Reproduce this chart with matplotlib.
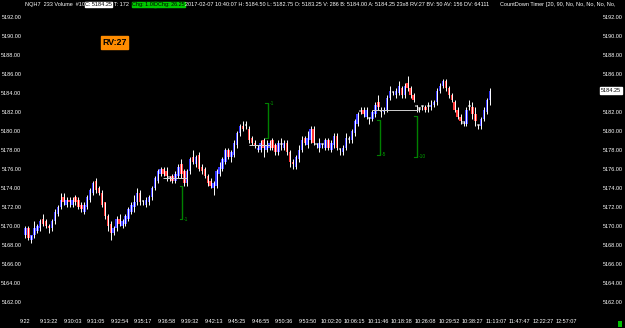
import matplotlib
matplotlib.use("Agg")
import matplotlib.pyplot as plt
import numpy as np

plt.rcParams['font.family'] = ['Liberation Sans', 'DejaVu Sans']

# volume bars (233 volume)
opens = [
    5169.0, 5169.75, 5168.5, 5169.0, 5169.5, 5169.75, 5170.75, 5170.5, 5170.0, 5169.75,
    5170.5, 5171.25, 5172.0, 5173.0, 5172.25, 5172.75, 5172.25, 5173.0, 5172.75, 5172.25,
    5171.5, 5172.0, 5172.75, 5173.5, 5174.75, 5174.0, 5173.5, 5172.5, 5171.0, 5170.25,
    5169.25, 5169.75, 5170.75, 5170.0, 5170.25, 5170.75, 5171.5, 5172.0, 5172.5, 5173.5,
    5172.5, 5172.25, 5172.5, 5173.0, 5174.0, 5174.75, 5175.5, 5176.0, 5175.75, 5175.0,
    5175.25, 5174.75, 5175.25, 5176.5, 5175.75, 5174.5, 5175.75, 5177.25, 5176.5, 5177.5,
    5176.25, 5176.0, 5175.25, 5174.75, 5174.0, 5174.25, 5175.5, 5176.0, 5176.75, 5178.0,
    5177.25, 5177.5, 5178.5, 5179.75, 5180.5, 5180.5, 5180.25, 5179.25, 5178.75, 5178.0,
    5178.0, 5179.0, 5178.0, 5178.25, 5179.0, 5178.5, 5177.75, 5178.5, 5178.25, 5178.75,
    5177.75, 5176.75, 5176.25, 5177.0, 5178.0, 5179.25, 5178.5, 5179.0, 5180.25, 5178.5,
    5178.25, 5178.5, 5178.25, 5179.0, 5178.0, 5178.5, 5179.5, 5178.0, 5177.75, 5178.25,
    5179.0, 5179.0, 5179.75, 5180.75, 5182.0, 5182.25, 5181.5, 5181.25, 5181.25, 5181.75,
    5183.0, 5182.0, 5182.0, 5182.25, 5183.5, 5184.0, 5183.75, 5184.0, 5184.5, 5183.75,
    5185.0, 5184.5, 5183.75, 5182.5, 5182.25, 5182.5, 5182.5, 5182.5, 5182.5, 5182.75,
    5183.0, 5184.25, 5184.75, 5185.25, 5184.5, 5183.75, 5183.0, 5182.25, 5181.5, 5180.75,
    5180.75, 5182.5, 5182.5, 5181.75, 5180.5, 5180.5, 5181.25, 5182.0, 5183.25]
closes = [
    5169.75, 5168.75, 5169.0, 5169.75, 5170.0, 5170.5, 5170.25, 5170.0, 5169.75, 5170.5,
    5171.5, 5172.0, 5172.75, 5172.5, 5172.75, 5172.5, 5172.75, 5172.5, 5172.0, 5171.75,
    5172.25, 5173.0, 5173.75, 5174.5, 5173.75, 5173.5, 5172.25, 5171.0, 5170.0, 5169.25,
    5169.75, 5170.75, 5170.25, 5170.5, 5171.0, 5171.75, 5172.25, 5172.5, 5173.5, 5172.5,
    5172.5, 5172.75, 5173.0, 5174.0, 5175.0, 5175.75, 5176.0, 5175.5, 5175.25, 5175.0,
    5174.75, 5175.5, 5176.25, 5175.5, 5174.5, 5175.75, 5177.0, 5176.75, 5177.25, 5176.0,
    5175.75, 5175.25, 5174.5, 5174.25, 5174.5, 5175.75, 5176.25, 5177.0, 5178.0, 5177.25,
    5177.75, 5178.75, 5179.75, 5180.5, 5180.25, 5180.5, 5179.0, 5178.75, 5178.5, 5178.25,
    5178.75, 5178.25, 5178.5, 5178.75, 5178.25, 5177.75, 5178.75, 5178.5, 5178.75, 5177.75,
    5176.75, 5176.5, 5177.25, 5178.0, 5179.0, 5178.75, 5179.25, 5180.25, 5178.75, 5178.5,
    5178.75, 5178.5, 5179.0, 5178.25, 5178.75, 5179.5, 5178.25, 5178.0, 5178.25, 5179.25,
    5179.0, 5180.0, 5181.0, 5181.75, 5182.0, 5181.75, 5182.25, 5181.25, 5182.0, 5182.75,
    5182.5, 5182.0, 5182.25, 5183.5, 5184.25, 5184.0, 5184.25, 5184.75, 5183.75, 5184.75,
    5184.5, 5183.75, 5183.25, 5182.5, 5182.25, 5182.5, 5182.25, 5182.5, 5182.75, 5183.0,
    5184.25, 5184.75, 5185.25, 5184.5, 5183.75, 5183.25, 5182.25, 5181.5, 5181.0, 5180.75,
    5182.25, 5182.5, 5181.75, 5181.0, 5180.5, 5181.25, 5182.25, 5183.25, 5184.25]

# wick length above / below the body, in ticks of 0.25
up_ticks = [
    1, 1, 0, 3, 1, 1, 2, 1, 1, 1,
    1, 1, 3, 2, 1, 1, 1, 1, 1, 1,
    1, 1, 1, 1, 1, 1, 1, 0, 1, 1,
    1, 1, 2, 1, 1, 1, 1, 3, 2, 1,
    1, 1, 1, 1, 1, 1, 1, 1, 2, 1,
    1, 1, 1, 2, 1, 1, 1, 3, 1, 1,
    1, 1, 1, 1, 1, 1, 2, 1, 1, 1,
    1, 1, 1, 1, 2, 2, 1, 1, 1, 1,
    1, 1, 2, 1, 1, 1, 1, 3, 1, 1,
    1, 1, 1, 2, 2, 1, 3, 1, 1, 1,
    2, 1, 1, 1, 1, 1, 1, 1, 1, 2,
    2, 1, 1, 1, 2, 1, 1, 1, 1, 1,
    3, 2, 1, 1, 2, 1, 1, 2, 1, 1,
    3, 1, 1, 1, 1, 1, 1, 2, 2, 1,
    1, 1, 1, 1, 1, 1, 1, 1, 1, 1,
    1, 3, 2, 3, 1, 1, 1, 1, 1]
down_ticks = [
    1, 1, 1, 1, 1, 1, 1, 1, 2, 1,
    1, 1, 1, 1, 1, 2, 1, 1, 1, 1,
    1, 1, 1, 1, 1, 1, 1, 1, 2, 3,
    1, 1, 1, 1, 1, 1, 1, 2, 1, 1,
    1, 1, 1, 1, 1, 1, 1, 1, 2, 1,
    1, 1, 1, 2, 1, 1, 1, 1, 1, 1,
    1, 1, 1, 1, 3, 1, 1, 1, 1, 1,
    2, 1, 1, 1, 1, 1, 1, 1, 1, 1,
    1, 4, 1, 1, 1, 1, 1, 2, 1, 1,
    2, 2, 1, 1, 1, 1, 1, 1, 1, 1,
    2, 1, 1, 1, 1, 1, 1, 2, 1, 1,
    1, 1, 1, 1, 1, 1, 1, 2, 1, 1,
    1, 2, 1, 1, 1, 1, 1, 1, 1, 1,
    1, 1, 1, 2, 1, 1, 1, 2, 1, 1,
    1, 1, 1, 1, 1, 1, 1, 1, 1, 1,
    1, 1, 2, 2, 1, 1, 1, 1, 2]

tick_labels = ["9:22", "9:13:22", "9:30:03", "9:31:05", "9:32:54", "9:35:17",
               "9:36:58", "9:39:32", "9:42:13", "9:45:25", "9:46:55", "9:50:36",
               "9:53:50", "10:02:20", "10:06:15", "10:11:46", "10:18:38", "10:26:08",
               "10:29:52", "10:38:27", "11:13:07", "11:47:47", "12:22:27", "12:57:07"]
price_ticks = [5162, 5164, 5166, 5168, 5170, 5172, 5174, 5176, 5178, 5180,
               5182, 5184, 5186, 5188, 5190, 5192]

# swing markers (green) and swing levels (white)
mark_x = [53.3, 82.5, 120.6, 133.2]
mark_lo = [5170.7, 5179.3, 5177.5, 5177.3]
mark_hi = [5174.2, 5182.9, 5181.2, 5181.6]
mark_txt = ["-1", "-1", "-5", "-10"]
level_y = [5175.0, 5178.5, 5182.2]
level_x0 = [46.8, 76.0, 118.0]
level_x1 = [54.9, 83.0, 133.5]

last_price = 5184.25

opens = np.array(opens)
closes = np.array(closes)
tops = np.maximum(opens, closes)
bots = np.minimum(opens, closes)
highs = tops + np.array(up_ticks) * 0.25
lows = bots - np.array(down_ticks) * 0.25
idx = np.arange(len(closes))

colors = []
for o, c in zip(opens, closes):
    if c > o:
        colors.append('#3535ff')
    elif c < o:
        colors.append('#ff3535')
    else:
        colors.append('#7a7a7a')
heights = np.where(tops - bots == 0, 0.25, tops - bots)

W, H = 625, 328
FS = 4.0
fig = plt.figure(figsize=(W / 100, H / 100), dpi=100, facecolor='black')
ax = fig.add_axes([23 / W, (H - 318) / H, 578 / W, 306 / H], facecolor='black')

ax.vlines(idx, lows, highs, color='white', lw=0.7)
ax.bar(idx, heights, bottom=bots, width=0.85, color=colors, linewidth=0,
       antialiased=False)

ax.hlines(level_y, level_x0, level_x1, color='#d0d0d0', lw=0.7)
ax.vlines(mark_x, mark_lo, mark_hi, color='#008000', lw=1.0)
for k, (x, lo, hi, t) in enumerate(zip(mark_x, mark_lo, mark_hi, mark_txt)):
    ax.plot([x - 0.9, x], [hi, hi], color='#008000', lw=0.8)
    ax.plot([x - 0.9, x], [lo, lo], color='#008000', lw=0.8)
    ty = hi if k == 1 else lo
    ax.text(x + 0.6, ty, t, color='#00a000', fontsize=3.5, va='center', ha='left')

ax.set_xlim(-0.85, -0.85 + 578 / 2.94)
ax.set_ylim(5190 - 282 / 9.5, 5190 + 24 / 9.5)
ax.set_xticks(np.arange(0, 8 * len(tick_labels), 8))
ax.set_xticklabels(tick_labels)
ax.set_yticks(price_ticks)
ax.set_yticklabels([f"{p:.2f}" for p in price_ticks])
ax.tick_params(axis='both', colors='white', labelsize=FS, length=0)
ax.tick_params(axis='x', pad=1)
ax.tick_params(axis='y', pad=1.2, labelleft=True, labelright=True)
for s in ax.spines.values():
    s.set_visible(False)

# last price marker on the right scale (drawn over the 5184.00 label)
ax.text(1.0, last_price, f"{last_price:.2f}", transform=ax.get_yaxis_transform(),
        fontsize=FS, color='black', va='center', ha='left', zorder=10,
        bbox=dict(boxstyle='square,pad=0.15', fc='white', ec='white'))

# header line
def hdr(x, txt, bg=None):
    kw = dict(fontsize=FS, va='center', ha='left')
    if bg:
        fig.text(x / W, 1 - 4.5 / H, txt, color='black',
                 bbox=dict(boxstyle='square,pad=0.05', fc=bg, ec=bg), **kw)
    else:
        fig.text(x / W, 1 - 4.5 / H, txt, color='white', **kw)

hdr(25, "NQH7  233 Volume  #10")
hdr(85, "C: 5184.25", 'white')
hdr(114, "T: 172")
hdr(132, "Chg: 1.00", '#00c800')
hdr(154, "DChg: 26.25", '#00c800')
hdr(185, "2017-02-07 10:40:07 H: 5184.50 L: 5182.75 O: 5183.25 V: 286 B: 5184.00 "
         "A: 5184.25 23x8 RV:27 BV: 50 AV: 156 DV: 64111")
hdr(500, "CountDown Timer")
hdr(546, "[20, 90, No, No, No, No, No,")

fig.text(114.5 / W, 1 - 42.5 / H, "RV:27", color='black', fontsize=6.3,
         fontweight='bold', ha='center', va='center',
         bbox=dict(boxstyle='square,pad=0.2', fc='#ff8c00', ec='#ff8c00'))

fig.patches.append(plt.Rectangle((618 / W, 1 - 327 / H), 4 / W, 6 / H,
                                 transform=fig.transFigure, fc='#00c000', ec='none'))

fig.savefig("out.png", dpi=100, facecolor='black')
